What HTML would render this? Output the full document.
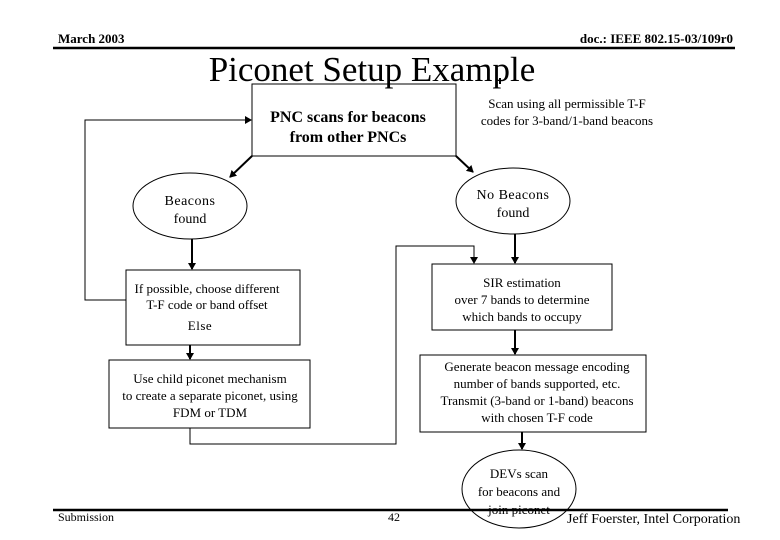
<!DOCTYPE html>
<html><head><style>
body{margin:0;background:#fff;}
svg{display:block;}
text{font-family:"Liberation Serif",serif;fill:#000;}
</style></head><body>
<svg width="780" height="540" viewBox="0 0 780 540" xmlns="http://www.w3.org/2000/svg">
<defs>
<marker id="a" markerWidth="8" markerHeight="8" refX="6" refY="4" orient="auto" markerUnits="userSpaceOnUse">
<path d="M0,0 L7,4 L0,8 z" fill="#000"/></marker>
</defs>
<text x="58" y="43" font-size="13" font-weight="bold">March 2003</text>
<text x="733" y="43" font-size="13" font-weight="bold" text-anchor="end">doc.: IEEE 802.15-03/109r0</text>
<line x1="53" y1="48" x2="735" y2="48" stroke="#000" stroke-width="2.5"/>
<text x="372" y="81" font-size="35" text-anchor="middle">Piconet Setup Example</text>

<g stroke="#000" fill="none" stroke-width="1">
<rect x="252" y="84" width="204" height="72"/>
<ellipse cx="190" cy="206" rx="57" ry="33"/>
<ellipse cx="513" cy="201" rx="57" ry="33"/>
<rect x="126" y="270" width="174" height="75"/>
<rect x="432" y="264" width="180" height="66"/>
<rect x="109" y="360" width="201" height="68"/>
<rect x="420" y="355" width="226" height="77"/>
<ellipse cx="519" cy="489" rx="57" ry="39"/>
</g>
<g stroke="#000" fill="none" stroke-width="2">
<line x1="389" y1="78" x2="389" y2="84"/>
<line x1="500" y1="78" x2="500" y2="84"/>
<line x1="252" y1="156" x2="230" y2="177" marker-end="url(#a)"/>
<line x1="456" y1="156" x2="473" y2="172" marker-end="url(#a)"/>
<line x1="192" y1="239" x2="192" y2="269" marker-end="url(#a)"/>
<line x1="515" y1="234" x2="515" y2="263" marker-end="url(#a)"/>
<line x1="190" y1="345" x2="190" y2="359" marker-end="url(#a)"/>
<line x1="515" y1="330" x2="515" y2="354" marker-end="url(#a)"/>
<line x1="522" y1="432" x2="522" y2="449" marker-end="url(#a)"/>
</g>
<g stroke="#000" fill="none" stroke-width="1">
<polyline points="126,300 85,300 85,120 245,120"/>
<polyline points="190,428 190,444 396,444 396,246 474,246 474,258"/>
</g>
<path d="M245,116 L252,120 L245,124 z"/>
<path d="M470,257 L474,264 L478,257 z"/>

<text x="348" y="122" font-size="16" font-weight="bold" text-anchor="middle">PNC scans for beacons</text>
<text x="348" y="142" font-size="16" font-weight="bold" text-anchor="middle">from other PNCs</text>
<text x="567" y="108" font-size="13" text-anchor="middle">Scan using all permissible T-F</text>
<text x="567" y="125" font-size="13" text-anchor="middle">codes for 3-band/1-band beacons</text>
<text x="190" y="205" font-size="14" text-anchor="middle" letter-spacing="0.5">Beacons</text>
<text x="190" y="223" font-size="14" text-anchor="middle">found</text>
<text x="513" y="199" font-size="14" text-anchor="middle" letter-spacing="0.5">No Beacons</text>
<text x="513" y="217" font-size="14" text-anchor="middle">found</text>
<text x="207" y="293" font-size="13" text-anchor="middle">If possible, choose different</text>
<text x="207" y="309" font-size="13" text-anchor="middle">T-F code or band offset</text>
<text x="200" y="330" font-size="13" text-anchor="middle" letter-spacing="0.5">Else</text>
<text x="522" y="287" font-size="13" text-anchor="middle">SIR estimation</text>
<text x="522" y="304" font-size="13" text-anchor="middle">over 7 bands to determine</text>
<text x="522" y="321" font-size="13" text-anchor="middle">which bands to occupy</text>
<text x="210" y="383" font-size="13" text-anchor="middle">Use child piconet mechanism</text>
<text x="210" y="400" font-size="13" text-anchor="middle">to create a separate piconet, using</text>
<text x="210" y="417" font-size="13" text-anchor="middle">FDM or TDM</text>
<text x="537" y="371" font-size="13" text-anchor="middle">Generate beacon message encoding</text>
<text x="537" y="388" font-size="13" text-anchor="middle">number of bands supported, etc.</text>
<text x="537" y="405" font-size="13" text-anchor="middle">Transmit  (3-band or 1-band) beacons</text>
<text x="537" y="422" font-size="13" text-anchor="middle">with chosen T-F code</text>
<text x="519" y="478" font-size="13" text-anchor="middle">DEVs scan</text>
<text x="519" y="496" font-size="13" text-anchor="middle">for beacons and</text>
<text x="519" y="514" font-size="13" text-anchor="middle">join piconet</text>

<line x1="53" y1="510" x2="728" y2="510" stroke="#000" stroke-width="2.5"/>
<text x="58" y="521" font-size="12">Submission</text>
<text x="388" y="521" font-size="12">42</text>
<text x="567" y="523" font-size="14">Jeff Foerster, Intel Corporation</text>
</svg>
</body></html>
